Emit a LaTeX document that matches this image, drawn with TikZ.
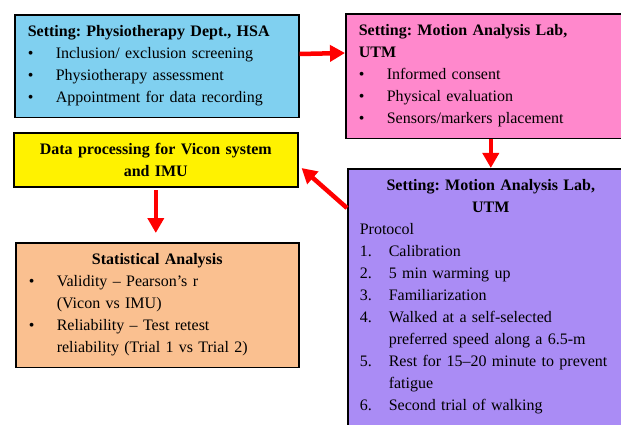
\documentclass[tikz,border=0pt]{standalone}
\usepackage{fontspec}
\setmainfont{Liberation Serif}
\usepackage{tikz}
\usetikzlibrary{arrows.meta,positioning}
\definecolor{skyblue}{HTML}{80D0F0}
\definecolor{pinkbox}{HTML}{FF88CC}
\definecolor{lilac}{HTML}{AA8CF5}
\definecolor{peach}{HTML}{FAC090}
\definecolor{arrowred}{HTML}{FF0000}
\newcommand{\bul}[1]{\makebox[28pt][l]{\textbullet}#1}
\newcommand{\num}[2]{\makebox[29pt][l]{#1}#2}
\frenchspacing

\begin{document}
\begin{tikzpicture}[x=1pt,y=-1pt,
  box/.style={draw=black,line width=1.6pt,anchor=north west,inner xsep=13pt,inner ysep=11pt,
    align=left,font=\fontsize{16}{22}\selectfont},
  flow/.style={arrowred,line width=4.5pt,-{Triangle[length=15pt,width=16pt]}}]
  \useasboundingbox (0,0) rectangle (621,425);
  \clip (0,0) rectangle (621,425);
  % boxes
  \node[box,fill=skyblue,text width=258pt] (hsa) at (14,14)
    {\textbf{Setting: Physiotherapy Dept., HSA}\\
     \bul{Inclusion/ exclusion screening}\\
     \bul{Physiotherapy assessment}\\
     \bul{Appointment for data recording}};
  \node[box,fill=pinkbox,text width=270pt] (lab) at (345,13)
    {\textbf{Setting: Motion Analysis Lab,}\\
     \textbf{UTM}\\
     \bul{Informed consent}\\
     \bul{Physical evaluation}\\
     \bul{Sensors/markers placement}};
  \node[box,fill=yellow,text width=258pt,align=center,inner ysep=10.5pt] (proc) at (13,132)
    {\textbf{Data processing for Vicon system}\\
     \textbf{and IMU}};
  \node[box,fill=peach,text width=257pt] (stat) at (15,242)
    {\makebox[257pt]{\textbf{Statistical Analysis}}\\
     \bul{Validity -- Pearson's r}\\
     \hspace*{28pt}(Vicon vs IMU)\\
     \bul{Reliability -- Test retest}\\
     \hspace*{28pt}reliability (Trial 1 vs Trial 2)};
  \node[box,fill=lilac,text width=262pt,inner xsep=12pt] (walk) at (347,168)
    {\makebox[262pt]{\textbf{Setting: Motion Analysis Lab,}}\\
     \makebox[262pt]{\textbf{UTM}}\\
     Protocol\\
     \num{1.}{Calibration}\\
     \num{2.}{5 min warming up}\\
     \num{3.}{Familiarization}\\
     \num{4.}{Walked at a self-selected}\\
     \hspace*{29pt}preferred speed along a 6.5-m\\
     \num{5.}{\mbox{Rest for 15--20 minute to prevent}}\\
     \hspace*{29pt}fatigue\\
     \num{6.}{Second trial of walking}\\
     \strut};
  % arrows
  \draw[flow] ([yshift=-40pt]hsa.north east) -- ([yshift=-40pt]lab.north west);
  \draw[flow] (walk.north |- lab.south) -- (walk.north);
  \draw[flow] ([yshift=-40pt]walk.north west) -- ([xshift=3pt,yshift=-8pt]proc.east);
  \draw[flow,shorten >=9pt,shorten <=2pt] (proc.south) -- (proc.south |- stat.north);
\end{tikzpicture}
\end{document}
